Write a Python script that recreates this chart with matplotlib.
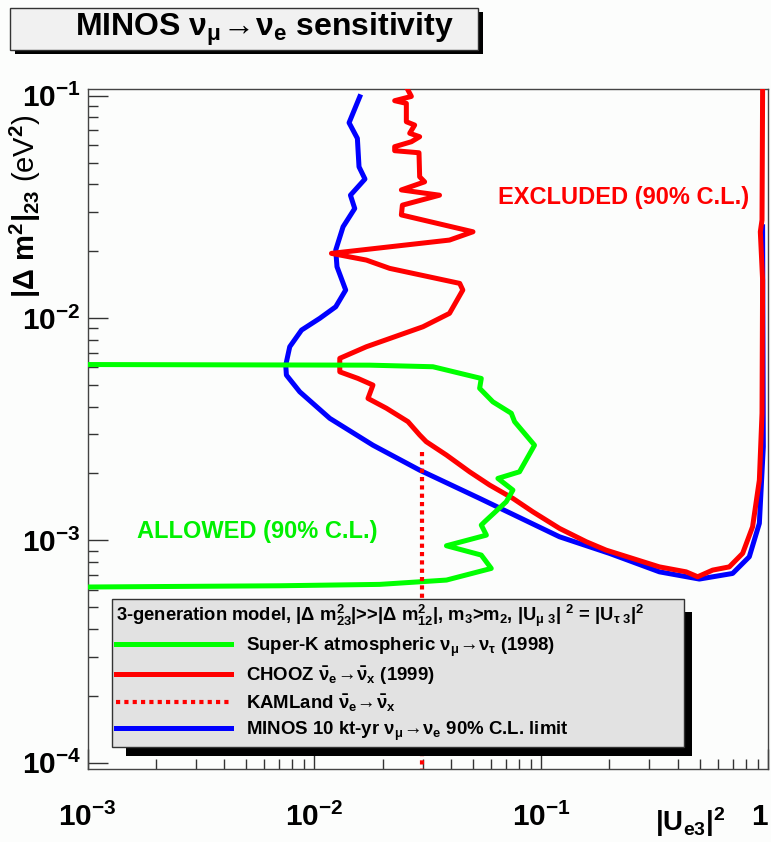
import numpy as np
import matplotlib
matplotlib.use('Agg')
import matplotlib.pyplot as plt
from matplotlib.patches import Rectangle
from matplotlib.ticker import FixedLocator, LogLocator, NullFormatter

# data: |U_e3|^2 vs |dm^2_23| (eV^2)
minos_u = [0.01584, 0.01421, 0.01546, 0.01572, 0.0167, 0.01441, 0.01505, 0.01337,
           0.01241, 0.01257, 0.01373, 0.01241, 0.01055, 0.00877, 0.00778, 0.00747,
           0.00752, 0.00861, 0.01168, 0.01811, 0.0291, 0.0535, 0.1204, 0.2000,
           0.332, 0.498, 0.698, 0.827, 0.916, 0.9535, 0.9467]
minos_dm = [0.0990, 0.0756, 0.0643, 0.0479, 0.0422, 0.0357, 0.0311, 0.02574,
            0.02022, 0.01701, 0.01337, 0.01124, 0.00997, 0.00883, 0.00743, 0.00614,
            0.00554, 0.00466, 0.00354, 0.00268, 0.00207, 0.001545, 0.001038, 0.000874,
            0.000722, 0.00067, 0.00071, 0.000844, 0.001193, 0.002636, 0.02574]

chooz_u = [0.02584, 0.02675, 0.02258, 0.02542, 0.02542, 0.02766, 0.0263, 0.0291,
           0.02675, 0.02258, 0.02258, 0.0289, 0.0291, 0.0306, 0.02417, 0.0356,
           0.02442, 0.02417, 0.0500, 0.0394, 0.01188, 0.01694, 0.02146, 0.0437,
           0.0451, 0.0394, 0.0301, 0.01694, 0.01293, 0.01293, 0.01556, 0.01811,
           0.01722, 0.02076, 0.02584, 0.0291, 0.0311, 0.0382, 0.0483, 0.0592,
           0.0750, 0.0918, 0.1204, 0.158, 0.1933, 0.332, 0.4353, 0.4897,
           0.570, 0.675, 0.773, 0.855, 0.916, 0.941, 0.9467, 0.925, 0.941, 0.9467]
chooz_dm = [0.1061, 0.0993, 0.0950, 0.0924, 0.0764, 0.0738, 0.0678, 0.0654,
            0.0621, 0.0590, 0.0566, 0.0554, 0.0432, 0.0410, 0.0377, 0.0357,
            0.0322, 0.0291, 0.02444, 0.02243, 0.01954, 0.01823, 0.01673, 0.01432,
            0.01337, 0.0105, 0.00914, 0.00743, 0.00659, 0.00573, 0.00535, 0.004995,
            0.00435, 0.00393, 0.00342, 0.00298, 0.00278, 0.00242, 0.002035, 0.001774,
            0.001545, 0.001345, 0.001132, 0.000986, 0.000904, 0.00076, 0.000722, 0.000686,
            0.000735, 0.00076, 0.000874, 0.001151, 0.001867, 0.00373, 0.01483, 0.02444,
            0.0276, 0.1061]

superk_u = [0.001, 0.01752, 0.0333, 0.0544, 0.0535, 0.0612, 0.0738, 0.0763,
            0.0934, 0.0802, 0.0644, 0.0750, 0.0701, 0.0563, 0.0544, 0.0573,
            0.0382, 0.0544, 0.0602, 0.0382, 0.0194, 0.00703, 0.001]
superk_dm = [0.00618, 0.00614, 0.00604, 0.00535, 0.00483, 0.0042, 0.00373, 0.00342,
             0.00268, 0.002035, 0.0019, 0.001684, 0.001492, 0.001213, 0.001172, 0.001056,
             0.000946, 0.000859, 0.000748, 0.000663, 0.000634, 0.000625, 0.000617]

x_lim = (1e-3, 1.0)
y_lim = (9.34e-5, 0.1069)

kam_u = [0.0299, 0.0299]
kam_dm = [0.0025, y_lim[0]]

x_ticks = [1e-3, 1e-2, 1e-1, 1.0]
x_tick_labels = [r'$10^{-3}$', r'$10^{-2}$', r'$10^{-1}$', '1']
y_ticks = [1e-4, 1e-3, 1e-2, 1e-1]
y_tick_labels = [r'$10^{-4}$', r'$10^{-3}$', r'$10^{-2}$', r'$10^{-1}$']

legend_header = (r'3-generation model, $|\Delta\ m^{2}_{23}|$>>$|\Delta\ m^{2}_{12}|$, '
                 r'm$_{3}$>m$_{2}$, $|U_{\mu\ 3}|\ ^{2}$ = $|U_{\tau\ 3}|^{2}$')
legend_labels = [r'Super-K atmospheric $\nu_{\mu}\!\rightarrow\!\nu_{\tau}$ (1998)',
                 r'CHOOZ $\bar{\nu}_{e}\!\rightarrow\!\bar{\nu}_{x}$ (1999)',
                 r'KAMLand $\bar{\nu}_{e}\!\rightarrow\!\bar{\nu}_{x}$',
                 r'MINOS 10 kt-yr $\nu_{\mu}\!\rightarrow\!\nu_{e}$ 90% C.L. limit']

plt.rcParams.update({
    'font.family': 'Liberation Sans',
    'font.weight': 'bold',
    'mathtext.fontset': 'custom',
    'mathtext.rm': 'Liberation Sans:bold',
    'mathtext.it': 'Liberation Sans:bold',
    'mathtext.bf': 'Liberation Sans:bold',
    'mathtext.sf': 'Liberation Sans:bold',
    'mathtext.default': 'rm',
})

W, H = 771, 842
bg = '#fcfdfc'


def px_rect(x0, y0, x1, y1):
    # image pixel box -> figure fraction
    return (x0 / W, 1 - y1 / H), (x1 - x0) / W, (y1 - y0) / H


fig = plt.figure(figsize=(W / 100, H / 100), dpi=100, facecolor=bg)
ax = fig.add_axes([87.7 / W, 1 - 769.3 / H, (768 - 87.7) / W, (769.3 - 89.3) / H])
ax.set_facecolor(bg)
ax.set_xscale('log')
ax.set_yscale('log')

lw = 3.6
h_minos, = ax.plot(minos_u, minos_dm, color='#0000ff', lw=lw, solid_joinstyle='round', zorder=2)
h_chooz, = ax.plot(chooz_u, chooz_dm, color='#ff0000', lw=lw, solid_joinstyle='round', zorder=3)
h_superk, = ax.plot(superk_u, superk_dm, color='#00ff00', lw=lw, solid_joinstyle='round', zorder=4)
h_kam, = ax.plot(kam_u, kam_dm, color='#ff0000', lw=3, ls=(0, (1, 1)), zorder=5)

ax.text(0.827, 0.0347, 'EXCLUDED (90% C.L.)', color='#ff0000', fontsize=17,
        ha='right', va='center')
ax.text(0.0190, 0.001093, 'ALLOWED (90% C.L.)', color='#00f000', fontsize=17,
        ha='right', va='center')

ax.set_xlim(*x_lim)
ax.set_ylim(*y_lim)

ax.xaxis.set_major_locator(FixedLocator(x_ticks))
ax.set_xticklabels(x_tick_labels)
ax.get_xticklabels()[-1].set_ha('right')
ax.yaxis.set_major_locator(FixedLocator(y_ticks))
ax.set_yticklabels(y_tick_labels)
for axis in (ax.xaxis, ax.yaxis):
    axis.set_minor_locator(LogLocator(base=10, subs=np.arange(2, 10) * 1.0, numticks=20))
    axis.set_minor_formatter(NullFormatter())

ax.tick_params(which='both', direction='in', top=False, right=False, width=1, color='#333333',
               labelsize=21.5)
ax.tick_params(which='major', length=14.4)
ax.tick_params(which='minor', length=7.2)
ax.tick_params(axis='x', which='major', pad=24)
ax.tick_params(axis='y', which='major', pad=5)
for s in ax.spines.values():
    s.set_color('#444444')
    s.set_linewidth(1)

ax.set_ylabel(r'$|\Delta\ m^{2}|_{23}$ (eV$^{2}$)', fontsize=21)
ax.yaxis.set_label_coords(-0.0922, 0.8284)
ax.yaxis.label.set_va('center')
ax.set_xlabel(r'$|U_{e3}|^{2}$', fontsize=20)
ax.xaxis.set_label_coords(0.885, -0.077)
ax.xaxis.label.set_va('center')

# title box with shadow
xy, w, h = px_rect(15, 12, 483, 54)
fig.add_artist(Rectangle(xy, w, h, transform=fig.transFigure, facecolor='black', edgecolor='none'))
xy, w, h = px_rect(10, 8, 478, 50)
fig.add_artist(Rectangle(xy, w, h, transform=fig.transFigure, facecolor='#f1f1f1',
                         edgecolor='#333333', lw=1))
fig.text(264.5 / W, 1 - 29 / H, r'MINOS $\nu_{\mu}\!\rightarrow\!\nu_{e}$ sensitivity',
         fontsize=23, ha='center', va='center')

# legend
lxy, lw_, lh_ = px_rect(112, 599, 684, 743)
leg = ax.legend(handles=[h_superk, h_chooz, h_kam, h_minos], labels=legend_labels,
                title=legend_header, loc='upper left',
                bbox_to_anchor=(lxy[0], lxy[1], lw_, lh_), bbox_transform=fig.transFigure,
                mode='expand', borderaxespad=0, fontsize=13.4, title_fontsize=13.2,
                alignment='left', fancybox=False, framealpha=1, facecolor='#e2e2e2',
                edgecolor='#333333', handlelength=6.2, handletextpad=0.8,
                labelspacing=0.32, borderpad=0.22)
leg.get_frame().set_linewidth(1)
leg.set_zorder(10)

fig.canvas.draw()
bb = leg.get_window_extent()
inv = ax.transAxes.inverted()
(sx0, sy0) = inv.transform((bb.x0 + 14, bb.y0 - 9))
(sx1, sy1) = inv.transform((bb.x1 + 8, bb.y1 - 13))
ax.add_patch(Rectangle((sx0, sy0), sx1 - sx0, sy1 - sy0, transform=ax.transAxes,
                       facecolor='black', edgecolor='none', zorder=9, clip_on=False))

fig.savefig('out.png', dpi=100, facecolor=fig.get_facecolor())
